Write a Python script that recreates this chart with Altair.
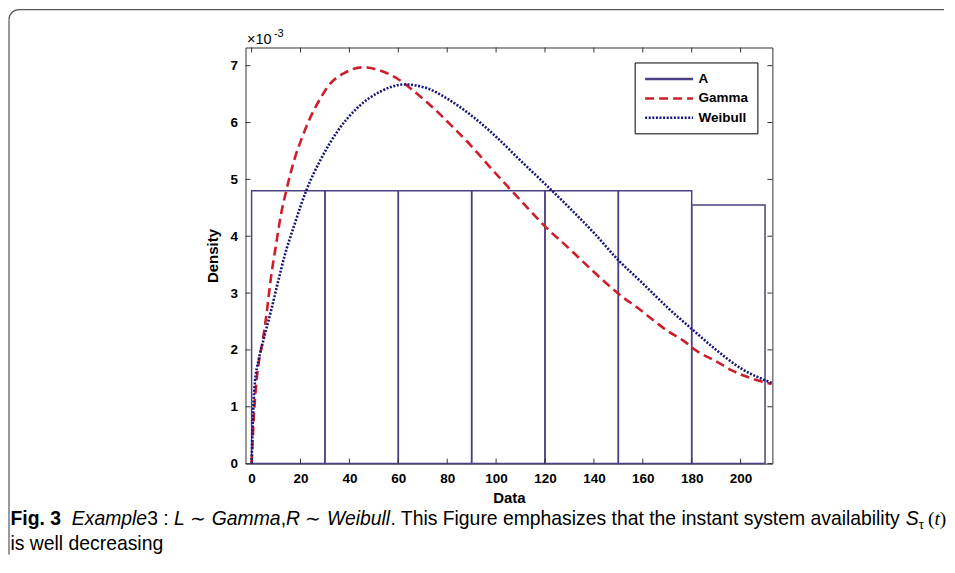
import altair as alt
import pandas as pd

# ---------------- data (density in units of 1e-3) ----------------
bin_edges = [0, 30, 60, 90, 120, 150, 180, 210]
bin_density = [4.8, 4.8, 4.8, 4.8, 4.8, 4.8, 4.55]

gamma_x = [0, 1, 2, 3, 4.5, 6, 8, 10, 12, 14, 16, 18, 20.6, 23.6, 27.4, 31.3, 37.9, 45.4,
           52.9, 59.7, 66.4, 74.0, 81.4, 89.6, 96.4, 104.6, 110.7, 116.1, 122.0, 127.7,
           133.4, 139.3, 145.4, 151.1, 157.6, 163.8, 169.9, 176.7, 182.8, 189.6, 196.4,
           205.2, 212.7]
gamma_y = [0, 0.9, 1.45, 1.8, 2.15, 2.6, 3.3, 3.85, 4.38, 4.77, 5.12, 5.42, 5.73, 6.05,
           6.37, 6.64, 6.87, 6.97, 6.91, 6.77, 6.55, 6.27, 5.96, 5.6, 5.27, 4.88, 4.6,
           4.35, 4.09, 3.87, 3.64, 3.40, 3.16, 2.95, 2.75, 2.54, 2.34, 2.16, 1.96, 1.81,
           1.64, 1.49, 1.40]

weib_x = [0, 0.5, 1.2, 3.0, 5.0, 8.0, 10.7, 13.4, 17.5, 22.5, 28.4, 35.2, 43.3, 52.9,
          62.4, 72, 80, 90, 100, 110, 120, 130, 140, 150, 160, 170, 180, 190, 200, 212.7]
weib_y = [0, 0.75, 1.35, 1.85, 2.2, 2.7, 3.18, 3.64, 4.2, 4.82, 5.36, 5.85, 6.26, 6.55,
          6.67, 6.6, 6.42, 6.12, 5.75, 5.33, 4.92, 4.5, 4.06, 3.58, 3.17, 2.75, 2.37, 2.0,
          1.68, 1.42]

series_names = ["A", "Gamma", "Weibull"]
x_ticks = [0, 20, 40, 60, 80, 100, 120, 140, 160, 180, 200]
y_ticks = [0, 1, 2, 3, 4, 5, 6, 7]

# ---------------- styling ----------------
FONT = "Liberation Sans"
HIST = "#4a4182"
RED = "#cc1f2b"
BLUE = "#16167a"
FRAME = "#333333"
BORDER = "#555555"
W, H = 528, 417

hist_df = pd.DataFrame({"start": bin_edges[:-1], "end": bin_edges[1:], "density": bin_density})
curve_df = pd.concat([
    pd.DataFrame({"x": gamma_x, "y": gamma_y, "series": "Gamma"}),
    pd.DataFrame({"x": weib_x, "y": weib_y, "series": "Weibull"}),
])
xt_df = pd.DataFrame({"t": x_ticks})
yt_df = pd.DataFrame({"t": y_ticks})
one_row = pd.DataFrame({"v": [0]})

xs = alt.Scale(domain=[-2.5, 213], nice=False, zero=False)
ys = alt.Scale(domain=[0, 7.32], nice=False, zero=False)
cs = alt.Scale(domain=series_names, range=[HIST, RED, BLUE])
ds = alt.Scale(domain=series_names, range=[[1, 0], [9, 5], [2, 1.6]])

AX = alt.Axis(values=x_ticks, ticks=False, domain=False, grid=False, labelPadding=8,
              labelFont=FONT, labelFontSize=13.5, labelFontWeight="bold", labelColor="black",
              labelFlush=False, labelOverlap=False,
              title="Data", titleFont=FONT, titleFontSize=15, titleFontWeight="bold",
              titleColor="black", titlePadding=5)
AY = alt.Axis(values=y_ticks, ticks=False, domain=False, grid=False, labelPadding=8,
              labelFont=FONT, labelFontSize=13.5, labelFontWeight="bold", labelColor="black",
              labelFlush=False, labelOverlap=False,
              title="Density", titleFont=FONT, titleFontSize=15, titleFontWeight="bold",
              titleColor="black", titlePadding=10)
# custom line-shaped legend symbol: path spans [-1, 7] scaled by sqrt(size)/2 = 6 px
LEG = alt.Legend(title=None, orient="none", legendX=390, legendY=15, direction="vertical",
                 symbolType="M-1,0H7", symbolSize=144, symbolStrokeWidth=2.5,
                 labelFont=FONT, labelFontSize=13.5, labelFontWeight="bold",
                 labelColor="black", labelOffset=40, strokeColor="black",
                 fillColor="white", padding=9, rowPadding=5.5)

hist = alt.Chart(hist_df).mark_bar(fillOpacity=0, stroke=HIST, strokeWidth=1.5).encode(
    x=alt.X("start:Q", scale=xs, axis=AX),
    x2="end:Q",
    y=alt.Y("density:Q", scale=ys, axis=AY),
    y2=alt.datum(0),
)

lines = alt.Chart(curve_df).mark_line(strokeWidth=2.6, interpolate="monotone").encode(
    x=alt.X("x:Q", scale=xs, axis=AX),
    y=alt.Y("y:Q", scale=ys, axis=AY),
    color=alt.Color("series:N", scale=cs, legend=LEG),
    strokeDash=alt.StrokeDash("series:N", scale=ds, legend=LEG),
)

# inward tick marks on all four sides
tick_b = alt.Chart(xt_df).mark_rule(color=FRAME).encode(
    x=alt.X("t:Q", scale=xs, axis=AX), y=alt.value(H), y2=alt.value(H - 5))
tick_t = alt.Chart(xt_df).mark_rule(color=FRAME).encode(
    x=alt.X("t:Q", scale=xs, axis=AX), y=alt.value(0), y2=alt.value(5))
tick_l = alt.Chart(yt_df).mark_rule(color=FRAME).encode(
    y=alt.Y("t:Q", scale=ys, axis=AY), x=alt.value(0), x2=alt.value(5))
tick_r = alt.Chart(yt_df).mark_rule(color=FRAME).encode(
    y=alt.Y("t:Q", scale=ys, axis=AY), x=alt.value(W - 5), x2=alt.value(W))


def label(text, x, y, size, weight="normal", style="normal", font=FONT, align="left"):
    return alt.Chart(one_row).mark_text(
        text=text, align=align, baseline="alphabetic", font=font, fontSize=size,
        fontWeight=weight, fontStyle=style, color="black",
    ).encode(x=alt.value(x), y=alt.value(y))


# exponent label
exp_lbls = [
    label("\u00d710", 1.5, -3.5, 14.5),
    label("-3", 28.5, -10.5, 11),
]

# ---------------- caption, laid out with Arial/Liberation advance widths ----------------
REG = {" ": 278, ",": 278, ".": 278, ":": 278, "3": 556, "E": 667, "F": 611, "G": 778,
       "L": 556, "R": 722, "S": 667, "T": 611, "W": 944, "a": 556, "b": 556, "c": 500,
       "d": 556, "e": 556, "g": 556, "h": 556, "i": 222, "l": 222, "m": 833, "n": 556,
       "p": 556, "r": 333, "s": 500, "t": 278, "u": 556, "v": 500, "w": 722, "x": 500,
       "y": 500, "z": 500, "\u223c": 838, "(": 333, ")": 333, "\u03c4": 440}
BOLD = {"F": 611, "i": 278, "g": 611, ".": 278, " ": 278, "3": 556}


def adv(s, size, table=REG):
    return sum(table.get(c, 556) for c in s) * size / 1000.0


CS = 19.4
L1, L2 = 478.5, 503.5
segments = [  # text, style, weight, font, size, dy, advance-text
    ("Fig. 3", "normal", "bold", FONT, CS, 0, "Fig. 3  "),
    ("Example", "italic", "normal", FONT, CS, 0, "Example"),
    ("3", "normal", "normal", FONT, CS, 0, "3 "),
    (":", "normal", "normal", FONT, CS, 0, ": "),
    ("L", "italic", "normal", FONT, CS, 0, "L "),
    ("\u223c", "normal", "normal", FONT, CS, 0, "\u223c "),
    ("Gamma", "italic", "normal", FONT, CS, 0, "Gamma"),
    (",", "normal", "normal", FONT, CS, 0, ","),
    ("R", "italic", "normal", FONT, CS, 0, "R "),
    ("\u223c", "normal", "normal", FONT, CS, 0, "\u223c "),
    ("Weibull", "italic", "normal", FONT, CS, 0, "Weibull"),
    (". This Figure emphasizes that the instant system availability", "normal", "normal",
     FONT, CS, 0, ". This Figure emphasizes that the instant system availability "),
    ("S", "italic", "normal", FONT, CS, 0, "S"),
    ("\u03c4", "normal", "normal", FONT, 13, 4, "\u03c4 "),
    ("(", "normal", "normal", "Liberation Serif", CS, 0, "("),
    ("t", "italic", "normal", "Liberation Serif", CS, 0, "t"),
    (")", "normal", "normal", "Liberation Serif", CS, 0, ")"),
]
caption = []
cx = 10 - 245.5
for text, style, weight, font, size, dy, advtext in segments:
    caption.append(label(text, cx, L1 + dy, size, weight=weight, style=style, font=font))
    cx += adv(advtext, size, BOLD if weight == "bold" else REG)
caption.append(label("is well decreasing", 10 - 245.5, L2, CS))

# outer figure frame (top-left rounded corner)
frame_top = alt.Chart(one_row).mark_rule(color=BORDER, strokeWidth=1.2).encode(
    x=alt.value(-227), x2=alt.value(700), y=alt.value(-38))
frame_left = alt.Chart(one_row).mark_rule(color=BORDER, strokeWidth=1.2).encode(
    x=alt.value(-237), y=alt.value(-28), y2=alt.value(508))
frame_corner = alt.Chart(one_row).mark_arc(color=BORDER).encode(
    x=alt.value(-227), y=alt.value(-28), radius=alt.value(10.6), radius2=alt.value(9.4),
    theta=alt.value(4.7124), theta2=alt.value(6.2832))

chart = alt.layer(
    hist, lines, tick_b, tick_t, tick_l, tick_r,
    *exp_lbls, *caption, frame_top, frame_left, frame_corner,
).properties(width=W, height=H, padding=0).configure_view(stroke=FRAME, strokeWidth=1)

chart.save("out.html", embed_options={"renderer": "svg", "actions": False})
